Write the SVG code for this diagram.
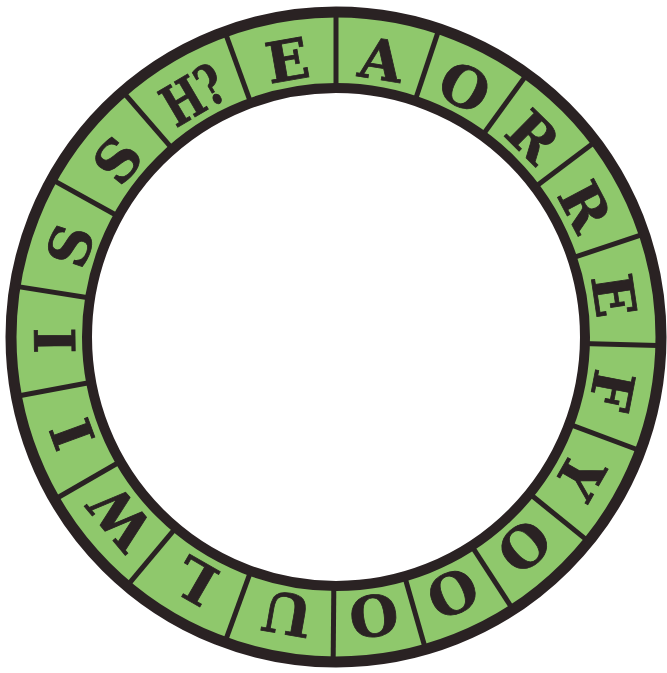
<svg xmlns="http://www.w3.org/2000/svg" width="667" height="673" viewBox="0 0 667 673">
<style>
.ring{fill:#8fc86c;stroke:#2a2223;stroke-width:11}
.hole{fill:#ffffff;stroke:#2a2223;stroke-width:10}
.div{stroke:#2a2223;stroke-width:5}
.t{font-family:"DejaVu Serif","Liberation Serif",serif;font-weight:bold;font-size:56px;fill:#2a2223;text-anchor:middle;stroke:#2a2223;stroke-width:0.8}
</style>
<rect width="667" height="673" fill="#ffffff"/>
<g id="ring">
<circle class="ring" cx="336" cy="337" r="325"/>
</g>
<g id="dividers">
<line class="div" x1="0" y1="-246" x2="0" y2="-322" transform="translate(336,337) rotate(0)"/>
<line class="div" x1="0" y1="-246" x2="0" y2="-322" transform="translate(336,337) rotate(18.5)"/>
<line class="div" x1="0" y1="-246" x2="0" y2="-322" transform="translate(336,337) rotate(36)"/>
<line class="div" x1="0" y1="-246" x2="0" y2="-322" transform="translate(336,337) rotate(53)"/>
<line class="div" x1="0" y1="-246" x2="0" y2="-322" transform="translate(336,337) rotate(71.5)"/>
<line class="div" x1="0" y1="-246" x2="0" y2="-322" transform="translate(336,337) rotate(91.5)"/>
<line class="div" x1="0" y1="-246" x2="0" y2="-322" transform="translate(336,337) rotate(110.5)"/>
<line class="div" x1="0" y1="-246" x2="0" y2="-322" transform="translate(336,337) rotate(129)"/>
<line class="div" x1="0" y1="-246" x2="0" y2="-322" transform="translate(336,337) rotate(147)"/>
<line class="div" x1="0" y1="-246" x2="0" y2="-322" transform="translate(336,337) rotate(164)"/>
<line class="div" x1="0" y1="-246" x2="0" y2="-322" transform="translate(336,337) rotate(180.5)"/>
<line class="div" x1="0" y1="-246" x2="0" y2="-322" transform="translate(336,337) rotate(200)"/>
<line class="div" x1="0" y1="-246" x2="0" y2="-322" transform="translate(336,337) rotate(220)"/>
<line class="div" x1="0" y1="-246" x2="0" y2="-322" transform="translate(336,337) rotate(240)"/>
<line class="div" x1="0" y1="-246" x2="0" y2="-322" transform="translate(336,337) rotate(259.5)"/>
<line class="div" x1="0" y1="-246" x2="0" y2="-322" transform="translate(336,337) rotate(279)"/>
<line class="div" x1="0" y1="-246" x2="0" y2="-322" transform="translate(336,337) rotate(299)"/>
<line class="div" x1="0" y1="-246" x2="0" y2="-322" transform="translate(336,337) rotate(319)"/>
<line class="div" x1="0" y1="-246" x2="0" y2="-322" transform="translate(336,337) rotate(340)"/>
</g>
<g id="hole">
<circle class="hole" cx="336" cy="337" r="249"/>
</g>
<g id="letters">
<g id="cell-A"><text class="t" transform="translate(336,337) rotate(9.25) translate(0,-281)" y="20">A</text></g>
<g id="cell-O1"><text class="t" transform="translate(336,337) rotate(27.25) translate(0,-281)" y="20">O</text></g>
<g id="cell-R1"><text class="t" transform="translate(336,337) rotate(44.5) translate(0,-281)" y="20">R</text></g>
<g id="cell-R2"><text class="t" transform="translate(336,337) rotate(62.25) translate(0,-281)" y="20">R</text></g>
<g id="cell-E2"><text class="t" transform="translate(336,337) rotate(81.5) translate(0,-281)" y="20">E</text></g>
<g id="cell-F"><text class="t" transform="translate(336,337) rotate(101) translate(0,-281)" y="20">F</text></g>
<g id="cell-Y"><text class="t" transform="translate(336,337) rotate(119.75) translate(0,-281)" y="20">Y</text></g>
<g id="cell-O2"><text class="t" transform="translate(336,337) rotate(138) translate(0,-281)" y="20">O</text></g>
<g id="cell-O3"><text class="t" transform="translate(336,337) rotate(155.5) translate(0,-281)" y="20">O</text></g>
<g id="cell-O4"><text class="t" transform="translate(336,337) rotate(172.25) translate(0,-281)" y="20">O</text></g>
<g id="cell-U"><text class="t" transform="translate(336,337) rotate(190) translate(0,-281)" y="20">U</text></g>
<g id="cell-L"><text class="t" transform="translate(336,337) rotate(210) translate(0,-281)" y="20">L</text></g>
<g id="cell-W"><text class="t" transform="translate(336,337) rotate(230) translate(0,-281)" y="20">W</text></g>
<g id="cell-I1"><text class="t" transform="translate(336,337) rotate(249.75) translate(0,-281)" y="20">I</text></g>
<g id="cell-I2"><text class="t" transform="translate(336,337) rotate(269.25) translate(0,-281)" y="20">I</text></g>
<g id="cell-S1"><text class="t" transform="translate(336,337) rotate(289) translate(0,-281)" y="20">S</text></g>
<g id="cell-S2"><text class="t" transform="translate(336,337) rotate(309) translate(0,-281)" y="20">S</text></g>
<g id="cell-H"><text class="t" transform="translate(336,337) rotate(329.5) translate(0,-281)" y="20" textLength="64" lengthAdjust="spacingAndGlyphs">H?</text></g>
<g id="cell-E1"><text class="t" transform="translate(336,337) rotate(350) translate(0,-281)" y="20">E</text></g>
</g>
</svg>
